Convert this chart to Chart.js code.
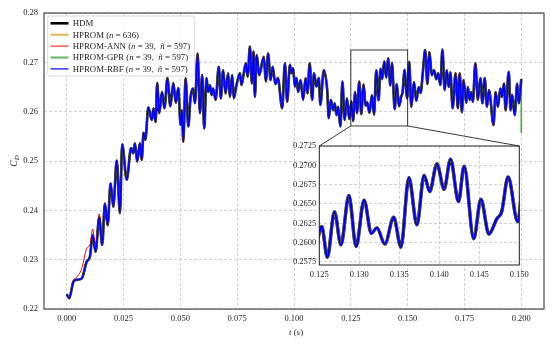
<!DOCTYPE html>
<html>
<head>
<meta charset="utf-8">
<script src="https://cdn.jsdelivr.net/npm/chart.js@4.4.1/dist/chart.umd.min.js"></script>
<style>
  html, body { margin: 0; padding: 0; background: #fff; }
  #wrap { position: relative; width: 555px; height: 347px; }
  #wrap canvas { position: absolute; left: 0; top: 0; }
</style>
</head>
<body>
<div id="wrap">
  <canvas id="main" width="555" height="347"></canvas>
  <canvas id="inset" width="555" height="347"></canvas>
</div>
<script>
// time (s) of the peaks / troughs
const timeS = [
  0.0000, 0.0011, 0.0029, 0.0041, 0.0066, 0.0088, 0.0102, 0.0114, 0.0127, 0.0143,
  0.0156, 0.0168, 0.0180, 0.0193, 0.0205, 0.0220, 0.0234, 0.0244, 0.0264, 0.0283,
  0.0293, 0.0300, 0.0310, 0.0322, 0.0330, 0.0338, 0.0346, 0.0359, 0.0374, 0.0382,
  0.0391, 0.0398, 0.0407, 0.0419, 0.0430, 0.0443, 0.0456, 0.0469, 0.0480, 0.0491,
  0.0501, 0.0507, 0.0513, 0.0523, 0.0535, 0.0545, 0.0556, 0.0564, 0.0576, 0.0586,
  0.0596, 0.0605, 0.0615, 0.0622, 0.0630, 0.0637, 0.0644, 0.0655, 0.0669, 0.0678,
  0.0688, 0.0699, 0.0710, 0.0718, 0.0728, 0.0735, 0.0747, 0.0762, 0.0769, 0.0779,
  0.0788, 0.0796, 0.0806, 0.0815, 0.0822, 0.0828, 0.0836, 0.0847, 0.0867, 0.0876,
  0.0886, 0.0897, 0.0906, 0.0918, 0.0929, 0.0948, 0.0960, 0.0970, 0.0982, 0.0989,
  0.0996, 0.1004, 0.1011, 0.1018, 0.1029, 0.1040, 0.1051, 0.1059, 0.1069, 0.1080,
  0.1088, 0.1099, 0.1109, 0.1116, 0.1131, 0.1146, 0.1153, 0.1162, 0.1172, 0.1179,
  0.1187, 0.1194, 0.1204, 0.1213, 0.1223, 0.1233, 0.1243,
  0.1253, 0.1260, 0.1269, 0.1277, 0.1287, 0.1296, 0.1306, 0.1315, 0.1322, 0.1332,
  0.1343, 0.1352, 0.1362, 0.1372, 0.1381, 0.1388, 0.1397, 0.1406, 0.1414, 0.1424,
  0.1431, 0.1443, 0.1452, 0.1462, 0.1472, 0.1478, 0.1486, 0.1498,
  0.1507, 0.1516, 0.1528, 0.1538, 0.1549, 0.1557, 0.1567, 0.1577, 0.1587, 0.1596,
  0.1606, 0.1616, 0.1626, 0.1634, 0.1644, 0.1653, 0.1663, 0.1672, 0.1681, 0.1688,
  0.1698, 0.1711, 0.1721, 0.1729, 0.1739, 0.1746, 0.1758, 0.1765, 0.1773, 0.1780,
  0.1787, 0.1798, 0.1809, 0.1820, 0.1829, 0.1839, 0.1849, 0.1858, 0.1878, 0.1887,
  0.1897, 0.1908, 0.1915, 0.1924, 0.1931, 0.1945, 0.1953, 0.1960, 0.1971, 0.1982,
  0.1989, 0.2000
]

// C_D of the HDM (the ROM curves lie on top of it)
const cdHdm = [
  0.2230, 0.2222, 0.2255, 0.2259, 0.2262, 0.2296, 0.2306, 0.2350, 0.2316, 0.2386,
  0.2330, 0.2414, 0.2370, 0.2455, 0.2407, 0.2501, 0.2394, 0.2534, 0.2462, 0.2526,
  0.2516, 0.2536, 0.2499, 0.2536, 0.2502, 0.2557, 0.2543, 0.2609, 0.2583, 0.2607,
  0.2579, 0.2658, 0.2597, 0.2640, 0.2607, 0.2668, 0.2611, 0.2658, 0.2618, 0.2648,
  0.2573, 0.2603, 0.2539, 0.2668, 0.2570, 0.2630, 0.2647, 0.2617, 0.2718, 0.2597,
  0.2674, 0.2566, 0.2668, 0.2640, 0.2654, 0.2634, 0.2647, 0.2624, 0.2691, 0.2627,
  0.2684, 0.2637, 0.2678, 0.2630, 0.2674, 0.2627, 0.2654, 0.2678, 0.2654, 0.2678,
  0.2698, 0.2671, 0.2732, 0.2657, 0.2722, 0.2630, 0.2715, 0.2674, 0.2711, 0.2661,
  0.2718, 0.2664, 0.2691, 0.2656, 0.2668, 0.2607, 0.2698, 0.2620, 0.2695, 0.2678,
  0.2688, 0.2651, 0.2668, 0.2640, 0.2664, 0.2624, 0.2668, 0.2637, 0.2698, 0.2624,
  0.2678, 0.2651, 0.2668, 0.2614, 0.2684, 0.2644, 0.2587, 0.2624, 0.2603, 0.2617,
  0.2593, 0.2610, 0.2570, 0.2661, 0.2583, 0.2627, 0.2585,
  0.2621, 0.2581, 0.2640, 0.2597, 0.2661, 0.2595, 0.2655, 0.2612, 0.2619, 0.2598,
  0.2633, 0.2594, 0.2684, 0.2623, 0.2687, 0.2666, 0.2702, 0.2669, 0.2708, 0.2653,
  0.2699, 0.2605, 0.2656, 0.2611, 0.2631, 0.2640, 0.2685, 0.2627,
  0.2701, 0.2610, 0.2660, 0.2622, 0.2650, 0.2638, 0.2680, 0.2725, 0.2656, 0.2721,
  0.2674, 0.2684, 0.2666, 0.2678, 0.2654, 0.2726, 0.2644, 0.2684, 0.2650, 0.2680,
  0.2607, 0.2678, 0.2607, 0.2678, 0.2599, 0.2664, 0.2618, 0.2650, 0.2624, 0.2640,
  0.2620, 0.2698, 0.2624, 0.2668, 0.2617, 0.2668, 0.2610, 0.2644, 0.2573, 0.2640,
  0.2610, 0.2647, 0.2630, 0.2657, 0.2603, 0.2681, 0.2603, 0.2634, 0.2593, 0.2657,
  0.2617, 0.2666
]

// the ANN curve sits a bit higher during the first 15 ms
const cdAnnStart = [0.2230, 0.2222, 0.2258, 0.2263, 0.2282, 0.2323, 0.2330, 0.2362, 0.2326, 0.2393]
// the GPR curve drops at the very last sample
const cdGprLast = 0.2557

const xTicks = [0, 0.025, 0.05, 0.075, 0.1, 0.125, 0.15, 0.175, 0.2]
const yTicks = [0.22, 0.23, 0.24, 0.25, 0.26, 0.27, 0.28]
const insetXTicks = [0.125, 0.13, 0.135, 0.14, 0.145, 0.15]
const insetYTicks = [0.2575, 0.26, 0.2625, 0.265, 0.2675, 0.27, 0.2725]
const insetRange = { xmin: 0.125, xmax: 0.15, ymin: 0.2571, ymax: 0.2725 }

const legendLabels = [
  [['HDM', false]],
  [['HPROM (', false], ['n', true], [' = 636)', false]],
  [['HPROM-ANN (', false], ['n', true], [' = 39,  ', false], ['ñ', true], [' = 597)', false]],
  [['HPROM-GPR (', false], ['n', true], [' = 39,  ', false], ['ñ', true], [' = 597)', false]],
  [['HPROM-RBF (', false], ['n', true], [' = 39,  ', false], ['ñ', true], [' = 597)', false]]
]

const FONT = "'Liberation Serif', 'DejaVu Serif', serif"
const GRID = 'rgba(176,176,176,0.75)'
const colors = ['#000000', 'rgba(218,165,32,0.8)', '#ff0000', 'rgba(0,128,0,0.6)', '#0000ff']
const mainWidths = [2.6, 2.0, 1.0, 1.8, 1.6]
const insetWidths = [3.4, 2.8, 1.6, 2.4, 2.2]

function toPoints (xs, ys) {
  return xs.map((x, i) => ({ x, y: ys[i] }))
}

const hdmPts = toPoints(timeS, cdHdm)
const annPts = toPoints(timeS, cdAnnStart.concat(cdHdm.slice(cdAnnStart.length)))
const gprPts = hdmPts.concat([{ x: timeS[timeS.length - 1], y: cdGprLast }])
const seriesPts = [hdmPts, hdmPts, annPts, gprPts, hdmPts]

function makeDatasets (widths, clip) {
  // the last series is drawn on top, as in the original figure
  return seriesPts.map((pts, i) => ({
    label: legendLabels[i].map((r) => r[0]).join(''),
    data: pts,
    borderColor: colors[i],
    borderWidth: widths[i],
    pointRadius: 0,
    fill: false,
    cubicInterpolationMode: 'monotone',
    borderJoinStyle: 'round',
    order: seriesPts.length - 1 - i,
    clip
  }))
}

function fixedTicks (values) {
  return (scale) => { scale.ticks = values.map((v) => ({ value: v })) }
}

function axisOptions (min, max, ticks, digits, fit, padding) {
  return {
    type: 'linear',
    min,
    max,
    afterBuildTicks: fixedTicks(ticks),
    afterFit: fit,
    grid: { color: GRID, lineWidth: 0.8, drawTicks: false },
    border: { display: false, dash: [3, 2] },
    ticks: {
      autoSkip: false,
      maxRotation: 0,
      padding,
      color: '#222',
      font: { family: FONT, size: 8.5 },
      callback: (v) => Number(v).toFixed(digits)
    }
  }
}

function drawRuns (ctx, x, y, runs, size) {
  for (const [text, italic] of runs) {
    ctx.font = (italic ? 'italic ' : '') + size + 'px ' + FONT
    ctx.fillText(text, x, y)
    x += ctx.measureText(text).width
  }
  return x
}

const mainDecor = {
  id: 'mainDecor',
  afterDraw (chart) {
    const { ctx, chartArea: a } = chart
    ctx.save()
    // frame
    ctx.strokeStyle = '#222'
    ctx.lineWidth = 1
    ctx.strokeRect(a.left, a.top, a.right - a.left, a.bottom - a.top)

    // legend
    const lx = 47.7
    const ly = 16
    ctx.fillStyle = 'rgba(255,255,255,0.85)'
    ctx.strokeStyle = '#d0d0d0'
    ctx.lineWidth = 0.8
    ctx.beginPath()
    ctx.roundRect(lx, ly, 146.6, 60, 2)
    ctx.fill()
    ctx.stroke()
    ctx.textBaseline = 'middle'
    legendLabels.forEach((runs, i) => {
      const y = 23.3 + i * 11.4
      ctx.strokeStyle = colors[i]
      ctx.lineWidth = [2.6, 2, 1, 2, 1.2][i]
      ctx.beginPath()
      ctx.moveTo(50.5, y)
      ctx.lineTo(68.5, y)
      ctx.stroke()
      ctx.fillStyle = '#222'
      drawRuns(ctx, 72.7, y + 0.5, runs, 8.8)
    })

    // axis titles
    ctx.fillStyle = '#222'
    ctx.textBaseline = 'alphabetic'
    ctx.font = 'italic 9px ' + FONT
    const tw = ctx.measureText('t').width
    ctx.font = '9px ' + FONT
    const sw = ctx.measureText(' (s)').width
    const tx = (a.left + a.right) / 2 + 2 - (tw + sw) / 2
    drawRuns(ctx, tx, 335, [['t', true], [' (s)', false]], 9)

    ctx.translate(16.5, (a.top + a.bottom) / 2)
    ctx.rotate(-Math.PI / 2)
    ctx.font = 'italic 9.5px ' + FONT
    const cw = ctx.measureText('C').width
    ctx.font = 'italic 7px ' + FONT
    const dw = ctx.measureText('D').width
    const x0 = -(cw + dw) / 2
    ctx.font = 'italic 9.5px ' + FONT
    ctx.fillText('C', x0, 0)
    ctx.font = 'italic 7px ' + FONT
    ctx.fillText('D', x0 + cw, 2)
    ctx.restore()
  }
}

const mainChart = new Chart(document.getElementById('main'), {
  type: 'line',
  data: { datasets: makeDatasets(mainWidths, 4) },
  options: {
    responsive: false,
    animation: false,
    events: [],
    layout: { padding: { left: 0, right: 11, top: 13, bottom: 0 } },
    plugins: { legend: { display: false }, tooltip: { enabled: false } },
    scales: {
      x: axisOptions(-0.01, 0.21, xTicks, 3, (s) => { s.height = 38 }, 5),
      y: axisOptions(0.22, 0.28, yTicks, 2, (s) => { s.width = 44 }, 6)
    }
  },
  plugins: [mainDecor]
})

const insetDecor = {
  id: 'insetDecor',
  beforeDraw (chart) {
    const { ctx, chartArea: a } = chart
    ctx.save()
    ctx.fillStyle = '#ffffff'
    ctx.fillRect(a.left, a.top, a.right - a.left, a.bottom - a.top)
    ctx.restore()
  },
  afterDraw (chart) {
    const { ctx, chartArea: a } = chart
    const mx = mainChart.scales.x
    const my = mainChart.scales.y
    const bx1 = mx.getPixelForValue(insetRange.xmin)
    const bx2 = mx.getPixelForValue(insetRange.xmax)
    const by1 = my.getPixelForValue(insetRange.ymax)
    const by2 = my.getPixelForValue(insetRange.ymin)
    ctx.save()
    ctx.strokeStyle = '#222'
    ctx.lineWidth = 1
    ctx.strokeRect(a.left, a.top, a.right - a.left, a.bottom - a.top)
    ctx.strokeStyle = 'rgba(20,20,20,0.85)'
    ctx.strokeRect(bx1, by1, bx2 - bx1, by2 - by1)
    ctx.beginPath()
    ctx.moveTo(bx1, by2)
    ctx.lineTo(a.left, a.top)
    ctx.moveTo(bx2, by2)
    ctx.lineTo(a.right, a.top)
    ctx.stroke()
    ctx.restore()
  }
}

new Chart(document.getElementById('inset'), { // eslint-disable-line
  type: 'line',
  data: { datasets: makeDatasets(insetWidths, 0) },
  options: {
    responsive: false,
    animation: false,
    events: [],
    layout: { padding: { left: 279.3, right: 35.7, top: 146, bottom: 64 } },
    plugins: { legend: { display: false }, tooltip: { enabled: false } },
    scales: {
      x: axisOptions(insetRange.xmin, insetRange.xmax, insetXTicks, 3, (s) => { s.height = 18 }, 5),
      y: axisOptions(insetRange.ymin, insetRange.ymax, insetYTicks, 4, (s) => { s.width = 40 }, 3)
    }
  },
  plugins: [insetDecor]
})
</script>
</body>
</html>
